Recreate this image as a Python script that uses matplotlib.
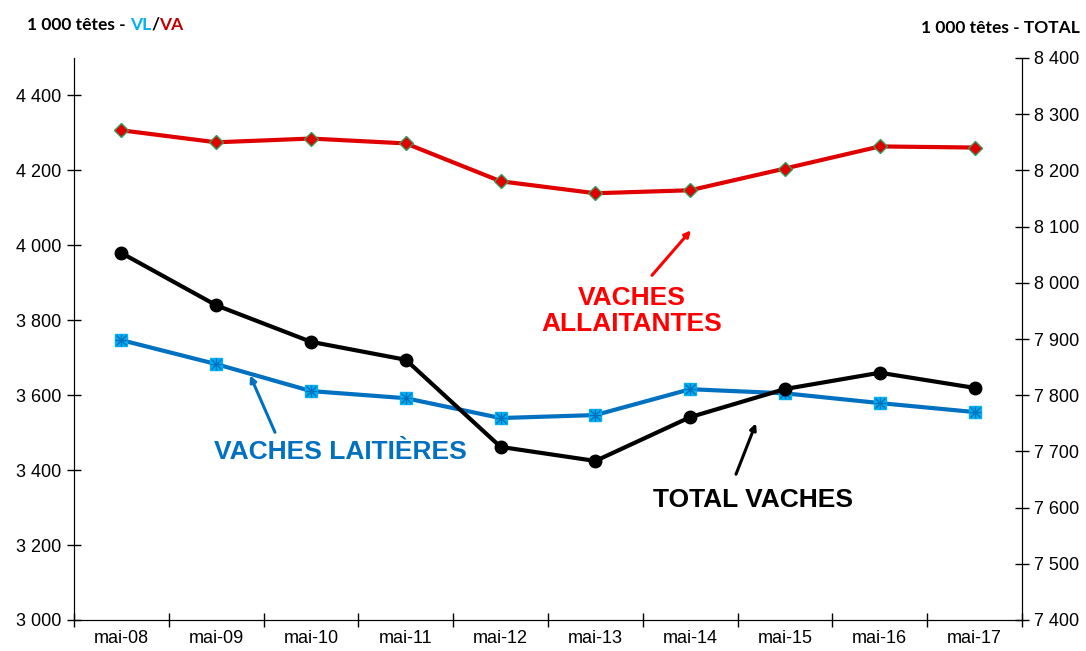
import numpy as np
import matplotlib.pyplot as plt
from matplotlib.ticker import FuncFormatter

mois = ["mai-08", "mai-09", "mai-10", "mai-11", "mai-12",
        "mai-13", "mai-14", "mai-15", "mai-16", "mai-17"]
vaches_allaitantes = [4307, 4275, 4285, 4272, 4171, 4139, 4147, 4205, 4264, 4261]
vaches_laitieres = [3747, 3683, 3611, 3592, 3539, 3547, 3616, 3605, 3579, 3555]
total_vaches = [8053, 7960, 7895, 7863, 7708, 7683, 7761, 7811, 7840, 7813]

plt.rcParams['font.family'] = ['Liberation Sans', 'DejaVu Sans']

def milliers(v, pos):
    return f"{int(v):,}".replace(",", " ")

fig = plt.figure(figsize=(10.86, 6.51), dpi=100)
ax = fig.add_axes([74/1086, 31/651, 948/1086, 562/651])
ax2 = ax.twinx()

x = np.arange(len(mois))
ax.plot(x, vaches_allaitantes, color="#E00000", lw=3, marker="D", ms=7,
        mfc="#E00000", mec="#3A9A5A", mew=1, zorder=3)
ax.plot(x, vaches_laitieres, color="#0070C0", lw=3, marker="s", ms=9,
        mfc="#00B0F0", mec="#00B0F0", zorder=3)
ax.plot(x, vaches_laitieres, ls="none", marker="x", ms=7, mec="#0070C0", mew=1, zorder=4)
ax.plot(x, vaches_laitieres, ls="none", marker="+", ms=8, mec="#0070C0", mew=1, zorder=4)
ax2.plot(x, total_vaches, color="black", lw=3, marker="o", ms=9, zorder=3)

ax.set_xlim(-0.5, len(mois) - 0.5)
ax.set_ylim(3000, 4500)
ax2.set_ylim(7400, 8400)
ax.set_yticks(np.arange(3000, 4401, 200))
ax2.set_yticks(np.arange(7400, 8401, 100))
ax.yaxis.set_major_formatter(FuncFormatter(milliers))
ax2.yaxis.set_major_formatter(FuncFormatter(milliers))

ax.set_xticks(x)
ax.set_xticklabels(mois)
ax.set_xticks(np.arange(-0.5, len(mois), 1), minor=True)
ax.tick_params(axis="x", which="major", length=0, labelsize=13, pad=7)
ax.tick_params(axis="x", which="minor", direction="inout", length=10, width=1)
ax.tick_params(axis="y", direction="inout", length=10, width=1, labelsize=13, pad=4)
ax2.tick_params(axis="y", direction="inout", length=10, width=1, labelsize=13, pad=4)

ax.spines["top"].set_visible(False)
ax2.spines["top"].set_visible(False)

# titres des axes
titre = dict(fontsize=12.5, fontweight="bold", family=["Lato", "DejaVu Sans"], va="center")
t = fig.text(27/1086, 1 - 25/651, "1 000 têtes - ", **titre)
for morceau, couleur in [("VL", "#00B0F0"), ("/", "black"), ("VA", "#C00000")]:
    t = ax.annotate(morceau, xy=(1, 0.5), xycoords=t, color=couleur,
                    fontsize=12.5, fontweight="bold", family=["Lato", "DejaVu Sans"],
                    va="center", ha="left", annotation_clip=False)
fig.text(1080/1086, 1 - 28/651, "1 000 têtes - TOTAL", ha="right", **titre)

# annotations
etiquette = dict(fontsize=19, fontweight="bold", ha="center", va="center")
ax.text(5.386, 3824, "VACHES\nALLAITANTES", color="#FF0000", linespacing=1.1, **etiquette)
ax.text(2.306, 3448, "VACHES LAITIÈRES", color="#0070C0", **etiquette)
ax.text(6.663, 3320, "TOTAL VACHES", color="black", **etiquette)

fleches = [((6.008, 4040), (5.597, 3920), "#FF0000"),
           ((1.357, 3653), (1.620, 3501), "#0070C0"),
           ((6.694, 3525), (6.483, 3389), "black")]
for tete, queue, couleur in fleches:
    ax.annotate("", xy=tete, xytext=queue,
                arrowprops=dict(arrowstyle="-|>", color=couleur, lw=2.2,
                                shrinkA=0, shrinkB=0, mutation_scale=9))

fig.savefig("out.png", dpi=100)
